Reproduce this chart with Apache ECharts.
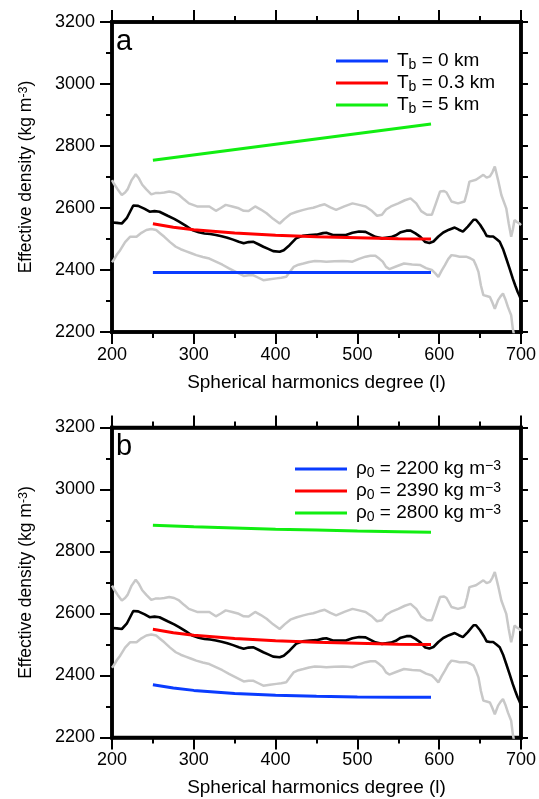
<!DOCTYPE html>
<html>
<head>
<meta charset="utf-8">
<script src="https://cdn.jsdelivr.net/npm/echarts@6/dist/echarts.min.js"></script>
<style>
html,body{margin:0;padding:0;background:#fff;}
#c{width:539px;height:799px;}
</style>
</head>
<body>
<div id="c"></div>
<script>
// ---- data (degree, effective density) ----
const blackCurve = [[200,2553],[206,2552],[212,2550],[218,2567],[226,2608],[232,2607],[240,2597],[246,2588],[252,2590],[258,2588],[268,2575],[276,2565],[282,2556],[290,2543],[298,2529],[306,2522],[313,2518],[320,2516],[327,2513],[334,2509],[341,2504],[348,2498],[355,2491],[361,2486],[367,2490],[373,2491],[379,2483],[385,2475],[391,2468],[397,2461],[405,2459],[410,2464],[417,2480],[425,2502],[433,2510],[442,2513],[450,2514],[458,2519],[462,2520],[470,2513],[478,2513],[486,2513],[494,2520],[502,2524],[510,2523],[516,2515],[522,2507],[530,2502],[541,2506],[547,2512],[553,2522],[560,2527],[565,2527],[571,2518],[577,2507],[583,2490],[588,2487],[593,2492],[599,2508],[605,2521],[612,2530],[619,2537],[624,2530],[629,2524],[635,2540],[642,2562],[645,2562],[650,2546],[655,2525],[658,2510],[662,2508],[666,2508],[670,2500],[674,2491],[678,2468],[682,2437],[686,2405],[690,2372],[693,2350],[696,2329],[698,2318],[700,2305]];
const grayUpper = [[200,2690],[202,2680],[207,2660],[212,2642],[216,2650],[219,2660],[224,2690],[229,2709],[233,2695],[237,2675],[242,2660],[248,2644],[253,2648],[258,2648],[264,2650],[270,2653],[276,2650],[282,2642],[288,2628],[294,2615],[304,2605],[311,2605],[319,2605],[327,2591],[333,2600],[339,2610],[347,2605],[355,2599],[361,2591],[367,2590],[375,2605],[382,2595],[389,2583],[397,2565],[405,2550],[411,2565],[418,2580],[426,2588],[434,2594],[440,2598],[446,2601],[453,2607],[460,2612],[467,2602],[474,2594],[484,2605],[494,2615],[502,2610],[510,2605],[518,2590],[524,2575],[530,2578],[535,2595],[541,2605],[550,2615],[558,2625],[565,2631],[572,2615],[578,2590],[585,2578],[591,2578],[596,2615],[601,2653],[606,2655],[609,2650],[615,2621],[623,2615],[631,2621],[634,2650],[637,2685],[645,2691],[650,2700],[654,2707],[658,2698],[662,2702],[665,2715],[668,2734],[672,2690],[676,2642],[682,2599],[685,2550],[688,2507],[690,2530],[692,2561],[695,2555],[698,2550],[700,2545]];
const grayLower = [[200,2425],[202,2432],[206,2450],[210,2464],[216,2490],[222,2507],[230,2507],[236,2520],[242,2529],[248,2532],[254,2529],[259,2518],[264,2507],[271,2490],[278,2475],[284,2467],[290,2461],[297,2454],[303,2448],[311,2442],[319,2437],[327,2427],[335,2417],[343,2405],[349,2397],[355,2389],[361,2381],[367,2383],[373,2383],[379,2375],[385,2367],[393,2370],[401,2373],[407,2375],[413,2378],[418,2396],[422,2410],[428,2417],[434,2421],[441,2426],[448,2429],[455,2428],[462,2427],[472,2428],[482,2429],[488,2428],[494,2427],[502,2436],[510,2443],[516,2446],[522,2446],[527,2436],[531,2427],[535,2410],[539,2403],[548,2412],[557,2421],[567,2418],[577,2416],[584,2406],[591,2400],[595,2390],[599,2378],[603,2398],[607,2416],[611,2435],[615,2448],[620,2446],[625,2443],[633,2443],[638,2438],[642,2432],[645,2415],[648,2394],[651,2350],[654,2319],[658,2316],[662,2313],[665,2295],[668,2275],[672,2303],[675,2315],[678,2324],[681,2305],[684,2281],[688,2254],[690,2211],[693,2170]];

// panel a models
const aBlue  = [[250,2392],[590,2392]];
const aRed   = [[250,2549],[275,2538],[300,2530],[350,2519],[400,2512],[450,2507],[500,2504],[550,2501],[590,2500]];
const aGreen = [[250,2754],[590,2871]];
// panel b models
const bBlue  = [[250,2370],[275,2360],[300,2352],[350,2342],[400,2336],[450,2333],[500,2331],[550,2330],[590,2330]];
const bRed   = aRed;
const bGreen = [[250,2885],[300,2880],[350,2876],[400,2872],[450,2869],[500,2866],[550,2864],[590,2862]];

const namesA = ['Tb = 0 km','Tb = 0.3 km','Tb = 5 km'];
const namesB = ['rho0 = 2200','rho0 = 2390','rho0 = 2800'];
const richLabels = {
  'Tb = 0 km':   '{f|T}{sub|b}{n| = 0 km}',
  'Tb = 0.3 km': '{f|T}{sub|b}{n| = 0.3 km}',
  'Tb = 5 km':   '{f|T}{sub|b}{n| = 5 km}',
  'rho0 = 2200': '{f|ρ}{sub|0}{n| = 2200 kg m}{sup|−3}',
  'rho0 = 2390': '{f|ρ}{sub|0}{n| = 2390 kg m}{sup|−3}',
  'rho0 = 2800': '{f|ρ}{sub|0}{n| = 2800 kg m}{sup|−3}'
};
const xTitle = 'Spherical harmonics degree (l)';
const yTitle = '{y|Effective density (kg m}{ysup|-3}{y|)}';

const FONT = '"Liberation Sans", Arial, Helvetica, sans-serif';
const BLUE = '#0a3cff', RED = '#ff0000', GREEN = '#11ee11', GRAY = '#c8c8c8';

const richStyle = {
  n:   {fontSize: 19, lineHeight: 19, fontFamily: FONT, color: '#000'},
  f:   {fontSize: 19, lineHeight: 19, fontFamily: FONT, color: '#000', padding: [0,0,0,4]},
  sub: {fontSize: 14, lineHeight: 14, fontFamily: FONT, color: '#000', padding: [8,0,0,0]},
  sup: {fontSize: 14, lineHeight: 14, fontFamily: FONT, color: '#000', verticalAlign: 'top'},
  y:   {fontSize: 17.5, lineHeight: 18, fontFamily: FONT, color: '#000'},
  ysup:{fontSize: 12.5, lineHeight: 12.5, fontFamily: FONT, color: '#000', verticalAlign: 'top'}
};

const grids = [
  {left: 112, right: 14.3, top: 22, height: 310},
  {left: 112, right: 14.3, top: 427.5, height: 310}
];
const frameLine = {show:true, onZero:false, lineStyle:{color:'#000', width:3.5, cap:'square'}};

function xAxes(gi) {
  return [
    {type:'value', gridIndex: gi, position:'bottom', min:200, max:700, interval:100,
     axisLine: frameLine, splitLine:{show:false},
     axisTick:{show:true, inside:false, length:12, lineStyle:{color:'#000', width:2}},
     minorTick:{show:true, splitNumber:2, length:6, lineStyle:{color:'#000', width:2}},
     axisLabel:{show:true, margin:14, fontSize:18, color:'#000', fontFamily:FONT, formatter: v => String(v)},
     name: xTitle, nameLocation:'middle', nameGap:41,
     nameTextStyle:{fontSize:19, color:'#000', fontFamily:FONT}},
    {type:'value', gridIndex: gi, position:'top', min:200, max:700, interval:100,
     axisLine: frameLine, splitLine:{show:false},
     axisTick:{show:true, inside:false, length:12, lineStyle:{color:'#000', width:2}},
     minorTick:{show:true, splitNumber:2, length:6, lineStyle:{color:'#000', width:2}},
     axisLabel:{show:false}}
  ];
}
function yAxes(gi) {
  return [
    {type:'value', gridIndex: gi, position:'left', min:2200, max:3200, interval:200,
     axisLine: frameLine, splitLine:{show:false},
     axisTick:{show:true, inside:false, length:12, lineStyle:{color:'#000', width:2}},
     minorTick:{show:true, splitNumber:2, length:6, lineStyle:{color:'#000', width:2}},
     axisLabel:{show:true, margin:17, fontSize:18, color:'#000', fontFamily:FONT, formatter: v => String(v)},
     name: yTitle, nameLocation:'middle', nameGap:77,
     nameTextStyle:{fontSize:17.5, color:'#000', fontFamily:FONT, rich: richStyle}},
    {type:'value', gridIndex: gi, position:'right', min:2200, max:3200, interval:100,
     axisLine: frameLine, splitLine:{show:false},
     axisTick:{show:true, inside:false, length:7, lineStyle:{color:'#000', width:2}},
     axisLabel:{show:false}}
  ];
}

function line(name, data, color, width, xi, yi, z) {
  return {type:'line', name, data, xAxisIndex: xi, yAxisIndex: yi,
    showSymbol:false, symbol:'none', smooth:false, z: z,
    itemStyle:{color}, lineStyle:{color, width}, animation:false, silent:true};
}

const series = [];
[[0,0],[2,2]].forEach(([xi, yi], p) => {
  series.push(line('upper'+p, grayUpper, GRAY, 2.5, xi, yi, 2));
  series.push(line('lower'+p, grayLower, GRAY, 2.5, xi, yi, 2));
  series.push(line('black'+p, blackCurve, '#000', 2.6, xi, yi, 3));
});
series.push(line(namesA[0], aBlue, BLUE, 3, 0, 0, 4));
series.push(line(namesA[1], aRed, RED, 3, 0, 0, 4));
series.push(line(namesA[2], aGreen, GREEN, 3, 0, 0, 4));
series.push(line(namesB[0], bBlue, BLUE, 3, 2, 2, 4));
series.push(line(namesB[1], bRed, RED, 3, 2, 2, 4));
series.push(line(namesB[2], bGreen, GREEN, 3, 2, 2, 4));

function legend(names, left, top) {
  return {data: names, left, top, orient:'vertical', icon:'rect',
    itemWidth:52, itemHeight:3, itemGap:0, padding:0, selectedMode:false,
    formatter: n => richLabels[n],
    textStyle:{fontSize:19, color:'#000', fontFamily:FONT, rich: richStyle}};
}

const chart = echarts.init(document.getElementById('c'), null, {renderer:'canvas'});
chart.setOption({
  animation:false,
  backgroundColor:'#fff',
  title: [
    {text:'a', left:116, top:27, padding:0, textStyle:{fontSize:29, fontWeight:'normal', color:'#000', fontFamily:FONT}},
    {text:'b', left:116, top:432, padding:0, textStyle:{fontSize:29, fontWeight:'normal', color:'#000', fontFamily:FONT}}
  ],
  grid: grids.map(g => Object.assign({show:true, borderColor:'#000', borderWidth:3.5, backgroundColor:'transparent'}, g)),
  xAxis: [...xAxes(0), ...xAxes(1)],
  yAxis: [...yAxes(0), ...yAxes(1)],
  legend: [legend(namesA, 336, 50), legend(namesB, 295, 458)],
  series
});
</script>
</body>
</html>
